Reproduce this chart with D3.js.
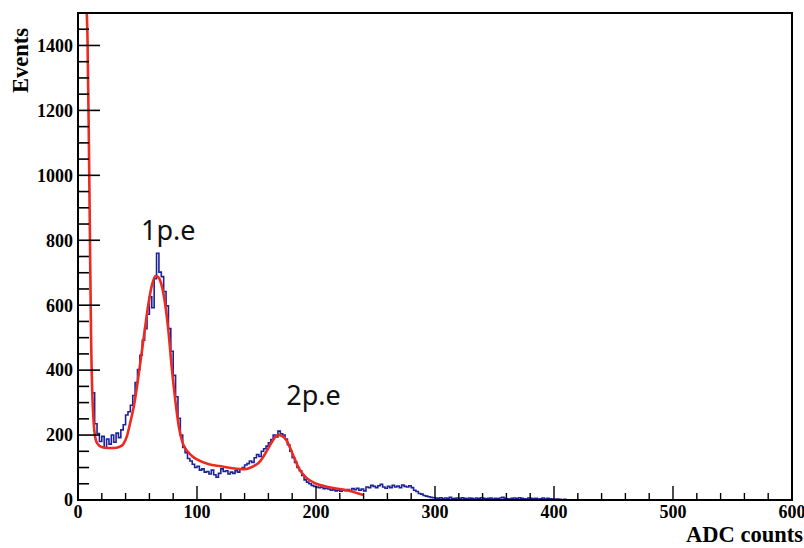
<!DOCTYPE html>
<html>
<head>
<meta charset="utf-8">
<script src="https://cdn.jsdelivr.net/npm/d3@7"></script>
<style>
  html, body { margin: 0; padding: 0; background: #fff; }
  .tick-label { font-family: "Liberation Serif", "Times New Roman", serif; font-weight: bold; font-size: 18px; fill: #000; }
  .axis-title { font-family: "Liberation Serif", "Times New Roman", serif; font-weight: bold; font-size: 22.5px; fill: #000; }
  .peak-label { font-family: "Noto Sans", sans-serif; font-size: 27px; fill: #111; }
</style>
</head>
<body>
<div id="chart"></div>
<script>
// Histogram: 2 ADC wide bins starting at ADC 12
const binStart = 12;
const binWidth = 2;
const counts = [
  330, 235, 205, 180, 196, 160, 188, 172,
  200, 178, 206, 192, 216, 232, 262, 272, 292, 322,
  362, 402, 446, 492, 528, 572, 626, 592, 682, 760,
  702, 688, 642, 598, 528, 458, 384, 318, 252, 200,
  162, 146, 128, 120, 110, 100, 104, 92, 96, 86,
  88, 80, 92, 78, 70, 82, 96, 88, 90, 80,
  86, 82, 90, 86, 95, 100, 108, 112, 120, 116,
  130, 140, 134, 150, 158, 166, 176, 186, 200, 194,
  212, 204, 200, 188, 170, 150, 130, 116, 100, 90,
  76, 62, 55, 50, 45, 42, 40, 38, 40, 35,
  36, 34, 30, 32, 28, 30, 27, 30, 29, 32,
  28, 35, 32, 36, 30, 34, 28, 40, 38, 45,
  42, 38, 44, 48, 40, 36, 42, 38, 45, 40,
  43, 38, 46, 42, 40, 44, 38, 30, 26, 20,
  18, 14, 12, 10, 8, 7, 6, 5, 7, 4,
  6, 5, 8, 4, 5, 6, 3, 7, 5, 4,
  6, 5, 3, 6, 4, 7, 5, 4, 5, 6,
  3, 5, 4, 6, 8, 5, 4, 3, 5, 6,
  4, 7, 5, 4, 3, 6, 5, 4, 5, 3,
  4, 6, 3, 5, 4, 3, 2, 3, 2, 1,
  2, 1, 0, 1, 0, 0
];

// Fit curve
const fitX = [6, 7, 8, 9, 10, 11, 12, 13, 14, 16, 20, 25, 30, 35, 38, 41, 44, 47, 50, 53, 56, 59, 62, 65, 67,
  70, 73, 76, 79, 82, 85, 88, 92, 96, 100, 110, 120, 130, 140, 148, 152, 156, 160, 164, 168, 171,
  175, 180, 186, 192, 199, 210, 226, 240];
const fitY = [1900, 1560, 1420, 1150, 820, 500, 330, 250, 205, 175, 163, 160, 160, 164, 172, 195, 240, 290, 360, 440, 520, 600, 660, 690, 688,
  665, 610, 520, 400, 300, 220, 175, 150, 135, 125, 110, 104, 98, 95, 105, 115, 135, 160, 185, 200, 198,
  185, 145, 95, 68, 52, 40, 30, 15];

const xTicks = [0, 100, 200, 300, 400, 500, 600];
const yTicks = [0, 200, 400, 600, 800, 1000, 1200, 1400];
const peakLabels = ['1p.e', '2p.e'];
const peakX = [53, 175];
const peakY = [800, 292];

const W = 804, H = 548;
const margin = { top: 13, right: 12, bottom: 48, left: 78 };
const iw = W - margin.left - margin.right;
const ih = H - margin.top - margin.bottom;

const svg = d3.select('#chart').append('svg')
    .attr('width', W)
    .attr('height', H);

const x = d3.scaleLinear().domain([0, 600]).range([0, iw]);
const y = d3.scaleLinear().domain([0, 1500]).range([ih, 0]);

const g = svg.append('g').attr('transform', `translate(${margin.left},${margin.top})`);

g.append('clipPath').attr('id', 'clip')
    .append('rect').attr('width', iw).attr('height', ih);

const plot = g.append('g').attr('clip-path', 'url(#clip)');

// histogram as a step outline
const histPts = counts.map((c, i) => [binStart + i * binWidth, c]);
histPts.push([binStart + counts.length * binWidth, counts[counts.length - 1]]);

plot.append('path')
    .datum(histPts)
    .attr('fill', 'none')
    .attr('stroke', '#1c2299')
    .attr('stroke-width', 1.6)
    .attr('d', d3.line().x(d => x(d[0])).y(d => y(d[1])).curve(d3.curveStepAfter));

// fit
plot.append('path')
    .datum(fitX.map((v, i) => [v, fitY[i]]))
    .attr('fill', 'none')
    .attr('stroke', '#ec2a20')
    .attr('stroke-width', 2.6)
    .attr('d', d3.line().x(d => x(d[0])).y(d => y(d[1])).curve(d3.curveMonotoneX));

// axes (ROOT style: ticks inside)
const yAxis = g.append('g');
yAxis.selectAll('line.minor')
    .data(d3.range(0, 1501, 50))
    .enter().append('line')
    .attr('x1', 0).attr('x2', d => d % 200 === 0 ? 22 : 11)
    .attr('y1', d => y(d)).attr('y2', d => y(d))
    .attr('stroke', '#000').attr('stroke-width', 1.6);
yAxis.selectAll('text')
    .data(yTicks)
    .enter().append('text')
    .attr('class', 'tick-label')
    .attr('x', -5)
    .attr('y', d => y(d))
    .attr('dy', '0.35em')
    .attr('text-anchor', 'end')
    .text(d => d);

const xAxis = g.append('g');
xAxis.selectAll('line')
    .data(d3.range(0, 601, 20))
    .enter().append('line')
    .attr('x1', d => x(d)).attr('x2', d => x(d))
    .attr('y1', ih).attr('y2', d => d % 100 === 0 ? ih - 14 : ih - 7)
    .attr('stroke', '#000').attr('stroke-width', 1.4);
xAxis.selectAll('text')
    .data(xTicks)
    .enter().append('text')
    .attr('class', 'tick-label')
    .attr('x', d => x(d))
    .attr('y', ih + 18)
    .attr('text-anchor', 'middle')
    .text(d => d);

// frame
g.append('rect')
    .attr('width', iw).attr('height', ih)
    .attr('fill', 'none')
    .attr('stroke', '#000')
    .attr('stroke-width', 2);

// titles
svg.append('text')
    .attr('class', 'axis-title')
    .attr('text-anchor', 'end')
    .attr('x', 803).attr('y', 542)
    .text('ADC counts');

svg.append('text')
    .attr('class', 'axis-title')
    .attr('text-anchor', 'end')
    .attr('transform', 'translate(28,28) rotate(-90)')
    .text('Events');

// peak labels
g.selectAll('text.peak-label')
    .data(peakLabels)
    .enter().append('text')
    .attr('class', 'peak-label')
    .attr('x', (d, i) => x(peakX[i]))
    .attr('y', (d, i) => y(peakY[i]))
    .text(d => d);
</script>
</body>
</html>
